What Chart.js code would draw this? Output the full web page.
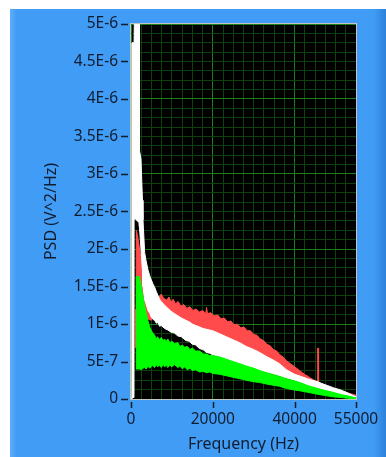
<!DOCTYPE html>
<html>
<head>
<meta charset="utf-8">
<script src="https://cdn.jsdelivr.net/npm/chart.js@4"></script>
<style>
  html, body { margin: 0; padding: 0; background: #fff; }
  #panel {
    position: absolute; left: 10px; top: 9px; width: 376px; height: 448px;
    background: linear-gradient(to right, #5eaef8 0px, #409cf5 7px, #409cf5 364px, #2c80d8 376px);
  }
  #chart { display: block; }
</style>
</head>
<body>
<div id="panel"><canvas id="chart" width="376" height="448"></canvas></div>
<script>
// values, in units of 1E-6 V^2/Hz
const SCALE = 1e-6;

const redFreq = [900, 1250, 1300, 1600, 2100, 2500, 3000, 3340, 3800, 4400, 4950, 5500, 6300, 6800, 7400, 8000, 8700, 9300, 9800, 10300, 10900, 11500, 12200, 12900, 13600, 14400, 15100, 15900, 16700, 17500, 18300, 18460, 18700, 19500, 20300, 21200, 22000, 22800, 23600, 24400, 25200, 26000, 26800, 27600, 28400, 29200, 30000, 30800, 31600, 32400, 33200, 34000, 34800, 35600, 36400, 37200, 38000, 39000, 40000, 41200, 42400, 43600, 44800, 45550, 45650, 45750, 45850, 46500, 47500, 48500, 49500, 50500, 51500, 52600, 53600, 54500, 55000];
const redHigh = [1.19, 1.19, 2.25, 2.18, 2.0, 1.85, 1.72, 1.66, 1.58, 1.50, 1.45, 1.42, 1.39, 1.36, 1.40, 1.34, 1.32, 1.36, 1.29, 1.33, 1.27, 1.30, 1.24, 1.26, 1.21, 1.23, 1.18, 1.20, 1.16, 1.18, 1.14, 1.22, 1.14, 1.15, 1.11, 1.12, 1.07, 1.08, 1.03, 1.04, 0.99, 1.00, 0.95, 0.96, 0.91, 0.91, 0.86, 0.85, 0.80, 0.78, 0.73, 0.71, 0.66, 0.64, 0.59, 0.56, 0.51, 0.47, 0.43, 0.38, 0.33, 0.29, 0.25, 0.23, 0.68, 0.68, 0.23, 0.20, 0.17, 0.15, 0.13, 0.11, 0.10, 0.09, 0.07, 0.06, 0.05];
const redLow = [0.69, 0.69, 0.69, 0.69, 0.75, 0.90, 1.05, 1.12, 1.08, 1.06, 1.05, 1.12, 1.10, 1.08, 1.05, 1.02, 1.00, 0.98, 0.96, 0.95, 0.93, 0.92, 0.90, 0.88, 0.86, 0.85, 0.83, 0.82, 0.80, 0.78, 0.77, 0.77, 0.77, 0.76, 0.75, 0.73, 0.72, 0.70, 0.68, 0.67, 0.65, 0.63, 0.61, 0.59, 0.57, 0.55, 0.53, 0.51, 0.49, 0.47, 0.45, 0.43, 0.41, 0.39, 0.37, 0.35, 0.33, 0.31, 0.29, 0.27, 0.24, 0.21, 0.19, 0.18, 0.21, 0.21, 0.18, 0.16, 0.15, 0.13, 0.11, 0.09, 0.08, 0.07, 0.05, 0.04, 0.03];

const whiteFreq = [0, 200, 240, 730, 750, 1050, 2000, 2050, 2440, 2800, 2930, 3340, 3660, 4150, 4600, 4950, 5400, 5780, 6200, 6590, 7000, 7400, 8220, 9000, 9800, 10600, 11460, 12300, 13400, 14200, 15000, 15800, 16800, 17600, 18460, 19200, 20000, 21700, 23300, 24950, 26600, 28200, 30000, 31460, 33000, 35100, 36300, 38000, 40000, 41600, 43150, 45000, 45700, 46500, 48000, 49500, 51300, 53000, 54600, 55000];
const whiteHigh = [0, 0.05, 4.75, 4.75, 4.75, 6, 6, 3.32, 3.2, 2.65, 2.39, 1.95, 1.85, 1.72, 1.64, 1.59, 1.53, 1.49, 1.43, 1.38, 1.33, 1.30, 1.25, 1.21, 1.17, 1.14, 1.11, 1.08, 1.05, 1.03, 1.00, 0.98, 0.96, 0.94, 0.93, 0.92, 0.91, 0.87, 0.83, 0.79, 0.75, 0.70, 0.66, 0.62, 0.57, 0.51, 0.47, 0.39, 0.33, 0.30, 0.27, 0.24, 0.23, 0.21, 0.18, 0.15, 0.12, 0.08, 0.04, 0.03];
const whiteLow = [0, 0, 0.02, 0.02, 2.4, 2.4, 2.35, 2.3, 2.0, 1.7, 1.5, 1.32, 1.27, 1.18, 1.14, 1.09, 1.06, 1.05, 1.01, 1.02, 0.97, 0.98, 0.94, 0.92, 0.89, 0.88, 0.84, 0.83, 0.78, 0.77, 0.73, 0.72, 0.67, 0.66, 0.62, 0.61, 0.59, 0.56, 0.53, 0.50, 0.47, 0.44, 0.41, 0.38, 0.36, 0.33, 0.31, 0.28, 0.25, 0.22, 0.18, 0.15, 0.14, 0.13, 0.11, 0.09, 0.06, 0.04, 0.02, 0.02];

const greenFreq = [1250, 1300, 2100, 2500, 2930, 3300, 3730, 4150, 4560, 5200, 5780, 6200, 6500, 7000, 7390, 7900, 8200, 8700, 9000, 9500, 10000, 10600, 11460, 11950, 12600, 13000, 13800, 14400, 15000, 15800, 16800, 17600, 18460, 19200, 20000, 21700, 23300, 24950, 26600, 28200, 30000, 31460, 33100, 35100, 36300, 38000, 40000, 41200, 43150, 45000, 47000, 49300, 51300, 53000, 54600, 55000];
const greenHigh = [0.40, 1.63, 1.63, 1.50, 1.36, 1.25, 1.14, 1.04, 0.96, 0.89, 0.85, 0.80, 0.83, 0.79, 0.82, 0.78, 0.80, 0.77, 0.80, 0.75, 0.77, 0.74, 0.75, 0.70, 0.72, 0.69, 0.70, 0.66, 0.68, 0.64, 0.64, 0.60, 0.60, 0.58, 0.58, 0.56, 0.53, 0.50, 0.47, 0.44, 0.41, 0.38, 0.35, 0.32, 0.30, 0.27, 0.24, 0.22, 0.18, 0.15, 0.12, 0.09, 0.06, 0.04, 0.02, 0.02];
const greenLow = [0.40, 0.40, 0.40, 0.39, 0.41, 0.42, 0.40, 0.44, 0.41, 0.45, 0.42, 0.46, 0.43, 0.45, 0.42, 0.46, 0.43, 0.45, 0.42, 0.45, 0.43, 0.46, 0.42, 0.44, 0.40, 0.43, 0.39, 0.41, 0.38, 0.39, 0.36, 0.37, 0.35, 0.36, 0.34, 0.33, 0.31, 0.29, 0.27, 0.25, 0.23, 0.22, 0.20, 0.18, 0.17, 0.14, 0.12, 0.11, 0.09, 0.07, 0.05, 0.03, 0.02, 0.01, 0.00, 0.00];

const xTickLabels = [0, 20000, 40000, 55000];

const TEXT = '#111c2e';
const MAJOR = '#1b7d1b';
const MINOR = '#0d420d';
const FONT = { family: 'Noto Sans', size: 15.5 };
const TITLE_FONT = { family: 'Noto Sans', size: 16 };

function points(freq, vals) {
    return freq.map((f, i) => ({ x: f, y: vals[i] * SCALE }));
}

function bandSets(freq, high, low, color) {
    return [
        { data: points(freq, low), borderColor: color, borderWidth: 1, pointRadius: 0, fill: false },
        { data: points(freq, high), borderColor: color, borderWidth: 1, pointRadius: 0, backgroundColor: color, fill: '-1' }
    ];
}

// black plot area under the grid, grey frame and short tick dashes on top
const plotFrame = {
    id: 'plotFrame',
    beforeDraw(chart) {
        const { ctx, chartArea: a } = chart;
        ctx.save();
        ctx.fillStyle = '#000';
        ctx.fillRect(a.left, a.top, a.right - a.left, a.bottom - a.top);
        ctx.restore();
    },
    afterDatasetsDraw(chart) {
        const { ctx, chartArea: a, scales } = chart;
        ctx.save();
        ctx.strokeStyle = '#c4c4c4';
        ctx.lineWidth = 1;
        ctx.strokeRect(a.left - 0.5, a.top - 0.5, a.right - a.left + 1, a.bottom - a.top + 1);

        ctx.strokeStyle = TEXT;
        ctx.lineWidth = 1.5;
        ctx.beginPath();
        scales.y.ticks.filter(t => t.label !== '').forEach(t => {
            const py = Math.round(scales.y.getPixelForValue(t.value)) + 0.5;
            ctx.moveTo(a.left - 10, py);
            ctx.lineTo(a.left - 3, py);
        });
        scales.x.ticks.filter(t => t.label !== '').forEach(t => {
            const px = Math.round(scales.x.getPixelForValue(t.value)) + 0.5;
            ctx.moveTo(px, a.bottom + 3);
            ctx.lineTo(px, a.bottom + 9);
        });
        ctx.stroke();
        ctx.restore();
    }
};

const yStep = 1.25e-7;

new Chart(document.getElementById('chart'), {
    type: 'line',
    data: {
        datasets: [
            ...bandSets(greenFreq, greenHigh, greenLow, '#00ff00'),
            ...bandSets(whiteFreq, whiteHigh, whiteLow, '#ffffff'),
            ...bandSets(redFreq, redHigh, redLow, '#ff4b4b')
        ]
    },
    options: {
        responsive: false,
        animation: false,
        layout: { padding: { top: 15, right: 30, left: 0, bottom: 0 } },
        plugins: { legend: { display: false }, tooltip: { enabled: false } },
        elements: { line: { tension: 0 } },
        scales: {
            x: {
                type: 'linear',
                min: 0,
                max: 55000,
                afterFit: s => { s.height = 58; s.paddingLeft = 0; s.paddingRight = 0; },
                border: { display: false },
                ticks: {
                    stepSize: 2500,
                    autoSkip: false,
                    maxRotation: 0,
                    padding: 11,
                    color: TEXT,
                    font: FONT,
                    callback: v => xTickLabels.includes(v) ? String(v) : ''
                },
                grid: {
                    drawTicks: false,
                    color: c => c.tick.value % 20000 === 0 ? MAJOR : MINOR
                },
                title: { display: true, text: 'Frequency (Hz)', color: TEXT, font: TITLE_FONT, padding: { top: 0, bottom: 3 } }
            },
            y: {
                min: 0,
                max: 5e-6,
                afterFit: s => { s.width = 121; s.paddingTop = 0; s.paddingBottom = 0; },
                border: { display: false },
                ticks: {
                    stepSize: yStep,
                    autoSkip: false,
                    padding: 13,
                    color: TEXT,
                    font: FONT,
                    callback: v => {
                        const k = Math.round(v / yStep);
                        if (k % 4 !== 0) return '';
                        const n = k / 4;
                        if (n === 0) return '0';
                        if (n === 1) return '5E-7';
                        return (n / 2) + 'E-6';
                    }
                },
                grid: {
                    drawTicks: false,
                    color: c => Math.round(c.tick.value / yStep) % 8 === 0 ? MAJOR : MINOR
                },
                title: { display: true, text: 'PSD (V^2/Hz)', color: TEXT, font: TITLE_FONT, padding: { top: 32, bottom: 0 } }
            }
        }
    },
    plugins: [plotFrame]
});
</script>
</body>
</html>
